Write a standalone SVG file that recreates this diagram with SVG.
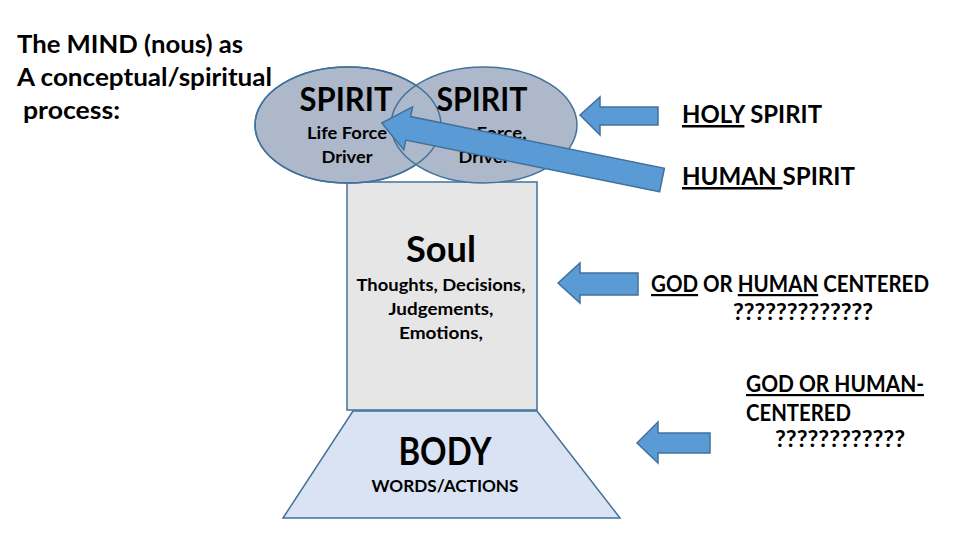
<svg xmlns="http://www.w3.org/2000/svg" width="960" height="540" viewBox="0 0 960 540">
<style>
  text { font-family: Lato, "Open Sans", "Liberation Sans", sans-serif; font-weight: bold; fill: #000; }
  .c { text-anchor: middle; }
  .u { text-decoration: underline; }
  .ell { fill: #adb9ca; stroke: #41719c; stroke-width: 1.5; }
  .ello { fill: none; stroke: #41719c; stroke-width: 1.5; }
  .arr { fill: #5b9bd5; stroke: #41719c; stroke-width: 1.5; }
</style>
<rect width="960" height="540" fill="#ffffff"/>

<g id="title">
  <text x="17" y="53" font-size="25" textLength="226" lengthAdjust="spacingAndGlyphs">The MIND (nous) as</text>
  <text x="17" y="86" font-size="25" textLength="255" lengthAdjust="spacingAndGlyphs">A conceptual/spiritual</text>
  <text x="23" y="119" font-size="25" textLength="97" lengthAdjust="spacingAndGlyphs">process:</text>
</g>

<g id="soul">
  <rect x="347" y="182" width="190" height="228" fill="#e7e6e6" stroke="#41719c" stroke-width="1.5"/>
  <text class="c" x="441" y="262" font-size="37" textLength="70" lengthAdjust="spacingAndGlyphs">Soul</text>
  <text class="c" x="441" y="291" font-size="17.5" textLength="169" lengthAdjust="spacingAndGlyphs">Thoughts, Decisions,</text>
  <text class="c" x="441" y="315" font-size="17.5" textLength="105" lengthAdjust="spacingAndGlyphs">Judgements,</text>
  <text class="c" x="441" y="339" font-size="17.5" textLength="84" lengthAdjust="spacingAndGlyphs">Emotions,</text>
</g>

<g id="body">
  <polygon points="353,411 537,411 620,518 283,518" fill="#dae3f3" stroke="#41719c" stroke-width="1.5"/>
  <text class="c" x="445" y="465" font-size="38" textLength="93" lengthAdjust="spacingAndGlyphs">BODY</text>
  <text class="c" x="445" y="492" font-size="17" textLength="147" lengthAdjust="spacingAndGlyphs">WORDS/ACTIONS</text>
</g>

<g id="spirit-left">
  <ellipse class="ell" cx="348" cy="125" rx="93" ry="58"/>
</g>
<g id="spirit-right">
  <ellipse class="ell" cx="484" cy="125" rx="93" ry="58"/>
  <ellipse class="ello" cx="348" cy="125" rx="93" ry="58"/>
  <text class="c" x="346" y="111" font-size="33" textLength="93" lengthAdjust="spacingAndGlyphs">SPIRIT</text>
  <text class="c" x="347" y="139" font-size="17.5" textLength="80" lengthAdjust="spacingAndGlyphs">Life Force</text>
  <text class="c" x="347" y="163" font-size="17.5" textLength="51" lengthAdjust="spacingAndGlyphs">Driver</text>
  <text class="c" x="482" y="111" font-size="33" textLength="91" lengthAdjust="spacingAndGlyphs">SPIRIT</text>
  <text class="c" x="484" y="139" font-size="17.5" textLength="85" lengthAdjust="spacingAndGlyphs">Life Force,</text>
  <text class="c" x="484" y="163" font-size="17.5" textLength="51" lengthAdjust="spacingAndGlyphs">Driver</text>
</g>

<g id="connectors">
  <polygon class="arr" transform="translate(662,180) rotate(191.5)" points="0,-12 259,-12 259,-22 286,0 259,22 259,12 0,12"/>
  <polygon class="arr" points="580,115 600,97 600,107 658,107 658,125 600,125 600,135"/>
  <polygon class="arr" points="558,283 580,263 580,273 638,273 638,295 580,295 580,303"/>
  <polygon class="arr" points="637,443 658,422 658,433 710,433 710,453 658,453 658,463"/>
</g>

<g id="labels">
  <text x="682" y="123" font-size="25" textLength="140" lengthAdjust="spacingAndGlyphs"><tspan class="u">HOLY</tspan> SPIRIT</text>
  <text x="682" y="185" font-size="25" textLength="173" lengthAdjust="spacingAndGlyphs" xml:space="preserve"><tspan class="u">HUMAN </tspan>SPIRIT</text>
  <text x="651" y="292" font-size="22" textLength="278" lengthAdjust="spacingAndGlyphs"><tspan class="u">GOD</tspan> OR <tspan class="u">HUMAN</tspan> CENTERED</text>
  <text x="733" y="320" font-size="22" textLength="140" lengthAdjust="spacingAndGlyphs">?????????????</text>
  <text x="746" y="392" font-size="22" textLength="178" lengthAdjust="spacingAndGlyphs"><tspan class="u">GOD OR HUMAN-</tspan></text>
  <text x="746" y="421" font-size="22" textLength="105" lengthAdjust="spacingAndGlyphs">CENTERED</text>
  <text x="775" y="447" font-size="22" textLength="130" lengthAdjust="spacingAndGlyphs">????????????</text>
</g>
</svg>
